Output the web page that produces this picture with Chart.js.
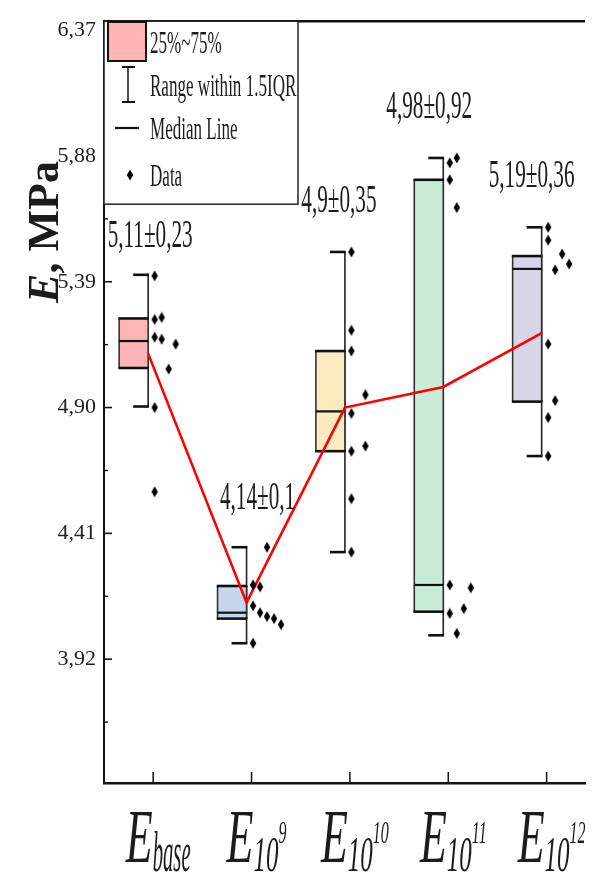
<!DOCTYPE html>
<html>
<head>
<meta charset="utf-8">
<script src="https://cdn.jsdelivr.net/npm/chart.js@4/dist/chart.umd.min.js"></script>
<style>
  html, body { margin: 0; padding: 0; background: #fff; }
  #wrap { width: 603px; height: 889px; position: relative; }
</style>
</head>
<body>
<div id="wrap"><canvas id="chart"></canvas></div>
<script>
// Groups: E_base, E_10^9, E_10^10, E_10^11, E_10^12
const groupSubscripts   = ['base', '10', '10', '10', '10'];
const groupSuperscripts = ['', '9', '10', '11', '12'];

// Mean ± SD shown above each group (MPa)
const meanValues = [5.11, 4.14, 4.9, 4.98, 5.19];
const sdValues   = [0.23, 0.1, 0.35, 0.92, 0.36];

// Box statistics (MPa)
const whiskerHigh  = [5.417, 4.356, 5.506, 5.872, 5.602];
const q3Values     = [5.247, 4.205, 5.120, 5.787, 5.490];
const medianValues = [5.159, 4.101, 4.885, 4.209, 5.440];
const q1Values     = [5.054, 4.078, 4.730, 4.105, 4.923];
const whiskerLow   = [4.904, 3.982, 4.337, 4.013, 4.711];

// Individual measurements (MPa)
const dataBase = [5.413, 5.243, 5.251, 5.174, 5.166, 5.147, 5.050, 4.900, 4.572];
const data1e9  = [4.356, 4.209, 4.202, 4.128, 4.101, 4.086, 4.078, 4.055, 3.982];
const data1e10 = [5.506, 5.201, 5.120, 4.950, 4.877, 4.750, 4.730, 4.545, 4.337];
const data1e11 = [5.872, 5.853, 5.787, 5.679, 4.209, 4.198, 4.117, 4.098, 4.020];
const data1e12 = [5.602, 5.552, 5.498, 5.459, 5.436, 5.147, 4.927, 4.861, 4.711];
const groupData = [dataBase, data1e9, data1e10, data1e11, data1e12];

// Y axis ticks
const yTickValues = [3.92, 4.41, 4.90, 5.39, 5.88, 6.37];
const yTickLabels = ['3,92', '4,41', '4,90', '5,39', '5,88', '6,37'];

// ---- layout / style (not data) ----
// swarm column of each dot, so overlapping dots sit side by side
const swarmColumns = [
  [0, 0, 1, 0, 1, 3, 2, 0, 0],
  [2, 0, 1, 0, 1, 2, 3, 4, 0],
  [0, 0, 0, 2, 0, 2, 0, 0, 0],
  [1, 0, 0, 1, 0, 3, 2, 0, 1],
  [0, 0, 2, 3, 1, 0, 1, 0, 0]
];
const boxColors = ['#ffb5b5', '#c4d7ec', '#fdebc0', '#c9ecd9', '#d6d6e6'];
const labelDx = [-3, 6, -11, -19, -15];
const labelDy = [-28, -38, -40, -40, -40];

const X_MIN = 0.5, X_MAX = 5.39;
const PLOT_W = 481;
const UNIT = PLOT_W / (X_MAX - X_MIN);   // px per category step
const SERIF = '"Liberation Serif", "Times New Roman", serif';
const INK = '#1c1c1c';

// tall diamond marker
const diamond = document.createElement('canvas');
diamond.width = 8; diamond.height = 12;
(function () {
  const g = diamond.getContext('2d');
  g.fillStyle = '#000';
  g.beginPath();
  g.moveTo(4, 0.5); g.lineTo(7.2, 6); g.lineTo(4, 11.5); g.lineTo(0.8, 6);
  g.closePath(); g.fill();
})();

const scatterPoints = [];
groupData.forEach((vals, i) => {
  vals.forEach((v, j) => {
    scatterPoints.push({ x: i + 1 + (1.5 + 7 * swarmColumns[i][j]) / UNIT, y: v });
  });
});
const meanLine = meanValues.map((m, i) => ({ x: i + 1 - 5 / UNIT, y: m }));

function condensed(ctx, text, x, y, font, sx, align) {
  ctx.save();
  ctx.font = font;
  const w = ctx.measureText(text).width * sx;
  const x0 = align === 'center' ? x - w / 2 : align === 'right' ? x - w : x;
  ctx.translate(x0, y);
  ctx.scale(sx, 1);
  ctx.textAlign = 'left';
  ctx.textBaseline = 'alphabetic';
  ctx.fillText(text, 0, 0);
  ctx.restore();
  return w;
}
function textWidth(ctx, text, font, sx) {
  ctx.save(); ctx.font = font;
  const w = ctx.measureText(text).width * sx;
  ctx.restore();
  return w;
}
function line(ctx, x1, y1, x2, y2, w, c) {
  ctx.save();
  ctx.strokeStyle = c || '#111';
  ctx.lineWidth = w;
  ctx.beginPath(); ctx.moveTo(x1, y1); ctx.lineTo(x2, y2); ctx.stroke();
  ctx.restore();
}

const boxPlugin = {
  id: 'boxes',
  beforeDatasetsDraw(chart) {
    const { ctx, scales: { x, y } } = chart;
    for (let i = 0; i < 5; i++) {
      const cx = x.getPixelForValue(i + 1);
      const right = cx - 5, left = cx - 34;
      const yq3 = y.getPixelForValue(q3Values[i]);
      const yq1 = y.getPixelForValue(q1Values[i]);
      const ymd = y.getPixelForValue(medianValues[i]);
      const yhi = y.getPixelForValue(whiskerHigh[i]);
      const ylo = y.getPixelForValue(whiskerLow[i]);
      // whisker
      line(ctx, right, yhi, right, ylo, 1.6, '#222');
      line(ctx, right - 15, yhi, right + 0.8, yhi, 2.6, '#111');
      line(ctx, right - 15, ylo, right + 0.8, ylo, 2.6, '#111');
      // box
      ctx.save();
      ctx.fillStyle = boxColors[i];
      ctx.fillRect(left, yq3, right - left, yq1 - yq3);
      ctx.restore();
      line(ctx, left, yq3, left, yq1, 1.6, '#333');
      line(ctx, right, yq3, right, yq1, 1.6, '#333');
      line(ctx, left - 0.8, yq3, right + 0.8, yq3, 2.6, '#111');
      line(ctx, left - 0.8, yq1, right + 0.8, yq1, 2.6, '#111');
      line(ctx, left, ymd, right, ymd, 2.2, '#111');
    }
  },
  afterDatasetsDraw(chart) {
    const { ctx, chartArea: a, scales: { x, y } } = chart;
    // frame top line
    line(ctx, a.left - 1, a.top, a.right, a.top, 2.6, '#111');
    // inward y ticks (major + minor)
    yTickValues.forEach((v) => {
      const py = y.getPixelForValue(v);
      line(ctx, a.left, py, a.left + 8, py, 1.6, '#111');
      const pm = y.getPixelForValue(v - 0.245);
      line(ctx, a.left, pm, a.left + 4, pm, 1.4, '#111');
    });
    // inward x ticks
    for (let i = 1; i <= 5; i++) {
      const px = x.getPixelForValue(i);
      line(ctx, px, a.bottom, px, a.bottom - 11, 1.5, '#111');
    }

    ctx.fillStyle = INK;
    // mean ± SD annotations
    for (let i = 0; i < 5; i++) {
      const txt = String(meanValues[i]).replace('.', ',') + '\u00b1' + String(sdValues[i]).replace('.', ',');
      const px = x.getPixelForValue(i + 1) + labelDx[i];
      const py = y.getPixelForValue(whiskerHigh[i]) + labelDy[i];
      condensed(ctx, txt, px, py, '40px ' + SERIF, 0.53, 'center');
    }

    // category labels: E with subscript / superscript
    const fE = 'italic 76px ' + SERIF, sxE = 0.58;
    for (let i = 0; i < 5; i++) {
      const sub = groupSubscripts[i], sup = groupSuperscripts[i];
      const fSub = sub === 'base' ? 'italic 56px ' + SERIF : 'italic 50px ' + SERIF;
      const sxSub = sub === 'base' ? 0.37 : 0.5;
      const fSup = 'italic 32px ' + SERIF, sxSup = 0.5;
      const wE = textWidth(ctx, 'E', fE, sxE);
      const wSub = textWidth(ctx, sub, fSub, sxSub);
      const wSup = sup ? textWidth(ctx, sup, fSup, sxSup) : 0;
      const total = wE + wSub + wSup;
      let sx = x.getPixelForValue(i + 1) + 5 - total / 2;
      condensed(ctx, 'E', sx, 862, fE, sxE, 'left');
      sx += wE;
      condensed(ctx, sub, sx, 871, fSub, sxSub, 'left');
      sx += wSub;
      if (sup) condensed(ctx, sup, sx, 843, fSup, sxSup, 'left');
    }

    // y axis title "E, MPa"
    ctx.save();
    ctx.translate(58, 232);
    ctx.rotate(-Math.PI / 2);
    const fTi = 'italic bold 44px ' + SERIF, fTr = 'bold 44px ' + SERIF;
    const w1 = textWidth(ctx, 'E', fTi, 1), w2 = textWidth(ctx, ', MPa', fTr, 1);
    const tx = -(w1 + w2) / 2;
    ctx.fillStyle = INK;
    ctx.font = fTi; ctx.textBaseline = 'alphabetic'; ctx.fillText('E', tx, 0);
    ctx.font = fTr; ctx.fillText(', MPa', tx + w1, 0);
    ctx.restore();

    // legend
    ctx.save();
    ctx.fillStyle = '#fff';
    ctx.fillRect(a.left, a.top, 194, 183);
    ctx.strokeStyle = '#222'; ctx.lineWidth = 1.5;
    ctx.strokeRect(a.left, a.top, 194, 183);
    ctx.fillStyle = boxColors[0];
    ctx.fillRect(108, 22, 38, 39);
    ctx.strokeStyle = '#111'; ctx.lineWidth = 2;
    ctx.strokeRect(108, 22, 38, 39);
    ctx.restore();
    line(ctx, 128, 67, 128, 102, 1.5, '#111');
    line(ctx, 122, 67, 135, 67, 2, '#111');
    line(ctx, 122, 102, 135, 102, 2, '#111');
    line(ctx, 115, 128, 139, 128, 2.2, '#111');
    ctx.drawImage(diamond, 126, 169);
    ctx.fillStyle = INK;
    const fL = '31px ' + SERIF;
    condensed(ctx, '25%~75%', 150, 53, fL, 0.55, 'left');
    condensed(ctx, 'Range within 1.5IQR', 150, 96, fL, 0.55, 'left');
    condensed(ctx, 'Median Line', 150, 139, fL, 0.55, 'left');
    condensed(ctx, 'Data', 150, 186, fL, 0.55, 'left');
  }
};

new Chart(document.getElementById('chart'), {
  data: {
    datasets: [
      {
        type: 'scatter',
        data: scatterPoints,
        pointStyle: diamond,
        pointRadius: 5,
        showLine: false
      },
      {
        type: 'line',
        data: meanLine,
        borderColor: '#ff0000',
        borderWidth: 2.6,
        pointRadius: 0,
        tension: 0,
        fill: false
      }
    ]
  },
  options: {
    responsive: true,
    maintainAspectRatio: false,
    animation: false,
    events: [],
    layout: { padding: { left: 0, top: 14, right: 18, bottom: 0 } },
    plugins: { legend: { display: false }, tooltip: { enabled: false } },
    scales: {
      x: {
        type: 'linear', min: X_MIN, max: X_MAX,
        grid: { display: false, drawTicks: false },
        ticks: { display: false },
        border: { display: true, color: '#111', width: 2.6 },
        afterFit(s) { s.height = 106; }
      },
      y: {
        type: 'linear', min: 3.4377, max: 6.4047,
        grid: { display: false, drawTicks: false },
        border: { display: true, color: '#111', width: 2 },
        ticks: {
          color: '#222', padding: 8,
          font: { family: SERIF, size: 22 },
          callback: (v, i) => yTickLabels[i]
        },
        afterBuildTicks(s) { s.ticks = yTickValues.map(v => ({ value: v })); },
        afterFit(s) { s.width = 104; }
      }
    }
  },
  plugins: [boxPlugin]
});
</script>
</body>
</html>
